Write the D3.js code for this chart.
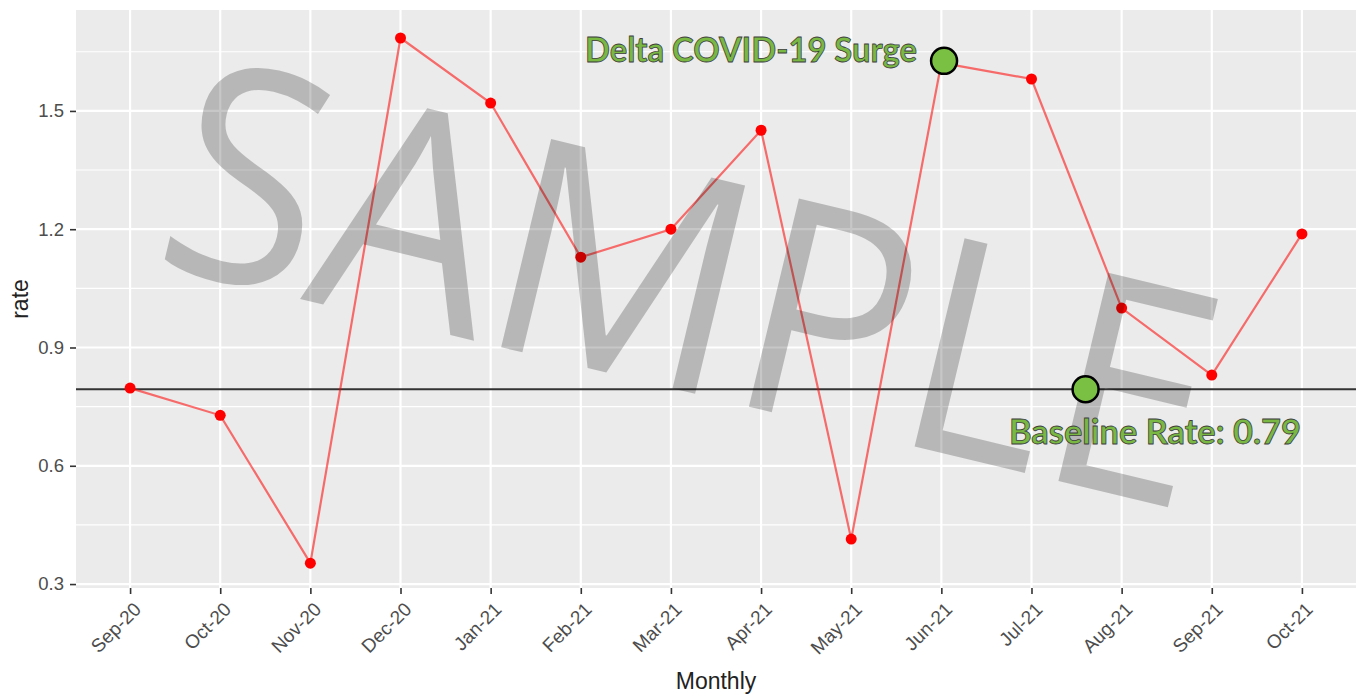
<!DOCTYPE html>
<html>
<head>
<meta charset="utf-8">
<script src="https://cdn.jsdelivr.net/npm/d3@7"></script>
<style>
  body { margin: 0; background: #fff; }
  svg { display: block; }
</style>
</head>
<body>
<div id="chart"></div>
<script>
// monthly rate values
var months = ["Sep-20", "Oct-20", "Nov-20", "Dec-20", "Jan-21", "Feb-21", "Mar-21",
              "Apr-21", "May-21", "Jun-21", "Jul-21", "Aug-21", "Sep-21", "Oct-21"];
var rates = [0.797, 0.728, 0.353, 1.685, 1.520, 1.129, 1.200,
             1.451, 0.414, 1.622, 1.581, 1.000, 0.830, 1.188];
var yTicks = [0.3, 0.6, 0.9, 1.2, 1.5];
var yMinor = [0.45, 0.75, 1.05, 1.35, 1.65];
var baselineRate = 0.794;

// annotation markers: category, offset (fraction of a step), value, label
var markers = [
  { month: "Jun-21", offset: 0.03, value: 1.627 },
  { month: "Jul-21", offset: 0.6, value: baselineRate }
];
var labels = [
  { text: "Delta COVID-19 Surge", month: "Jun-21", offset: -0.27, value: 1.625, anchor: "end", len: 332 },
  { text: "Baseline Rate: 0.79", month: "Jul-21", offset: -0.25, value: 0.656, anchor: "start", len: 292 }
];

var W = 1356, H = 696;
var panel = { left: 76, right: 1356, top: 10, bottom: 588 };

var svg = d3.select("#chart").append("svg")
    .attr("width", W)
    .attr("height", H);

var x = d3.scalePoint()
    .domain(months)
    .range([panel.left, panel.right])
    .padding(0.6);
var step = x.step();

var y = d3.scaleLinear()
    .domain([0.290, 1.756])
    .range([panel.bottom, panel.top]);

// panel background
svg.append("rect")
    .attr("x", panel.left)
    .attr("y", panel.top)
    .attr("width", panel.right - panel.left)
    .attr("height", panel.bottom - panel.top)
    .attr("fill", "#ebebeb");

var grid = svg.append("g");
grid.selectAll(".minor")
    .data(yMinor)
    .enter().append("line")
    .attr("x1", panel.left).attr("x2", panel.right)
    .attr("y1", function (d) { return y(d); })
    .attr("y2", function (d) { return y(d); })
    .attr("stroke", "#fff")
    .attr("stroke-width", 1.1);
grid.selectAll(".major")
    .data(yTicks)
    .enter().append("line")
    .attr("x1", panel.left).attr("x2", panel.right)
    .attr("y1", function (d) { return y(d); })
    .attr("y2", function (d) { return y(d); })
    .attr("stroke", "#fff")
    .attr("stroke-width", 2.2);
grid.selectAll(".vmajor")
    .data(months)
    .enter().append("line")
    .attr("x1", function (d) { return x(d); })
    .attr("x2", function (d) { return x(d); })
    .attr("y1", panel.top).attr("y2", panel.bottom)
    .attr("stroke", "#fff")
    .attr("stroke-width", 2.2);

// axes
var yAxis = svg.append("g")
    .attr("transform", "translate(" + panel.left + ",0)")
    .call(d3.axisLeft(y).tickValues(yTicks).tickSize(6).tickPadding(6).tickFormat(d3.format(".1f")));
yAxis.select(".domain").remove();
yAxis.selectAll(".tick line").attr("stroke", "#333").attr("stroke-width", 1.6);
yAxis.selectAll(".tick text")
    .attr("fill", "#4d4d4d")
    .style("font-family", "'Liberation Sans', Arial, sans-serif")
    .style("font-size", "18.5px");

var xAxis = svg.append("g")
    .attr("transform", "translate(0," + panel.bottom + ")")
    .call(d3.axisBottom(x).tickSize(6).tickPadding(0));
xAxis.select(".domain").remove();
xAxis.selectAll(".tick line").attr("stroke", "#333").attr("stroke-width", 1.6);
xAxis.selectAll(".tick text")
    .attr("fill", "#4d4d4d")
    .attr("text-anchor", "end")
    .attr("y", 0)
    .attr("dy", 0)
    .attr("transform", "translate(1,12) rotate(-45) translate(0,15)")
    .style("font-family", "'Liberation Sans', Arial, sans-serif")
    .style("font-size", "19px");

svg.append("text")
    .attr("x", (panel.left + panel.right) / 2)
    .attr("y", 689)
    .attr("text-anchor", "middle")
    .attr("fill", "#222")
    .style("font-family", "'Liberation Sans', Arial, sans-serif")
    .style("font-size", "23px")
    .text("Monthly");

svg.append("text")
    .attr("transform", "translate(28," + ((panel.top + panel.bottom) / 2) + ") rotate(-90)")
    .attr("text-anchor", "middle")
    .attr("fill", "#222")
    .style("font-family", "'Liberation Sans', Arial, sans-serif")
    .style("font-size", "23px")
    .text("rate");

// baseline
svg.append("line")
    .attr("x1", panel.left).attr("x2", panel.right)
    .attr("y1", y(baselineRate)).attr("y2", y(baselineRate))
    .attr("stroke", "#333")
    .attr("stroke-width", 2);

// series
var pts = months.map(function (m, i) { return [x(m), y(rates[i])]; });
svg.append("path")
    .attr("d", d3.line()(pts))
    .attr("fill", "none")
    .attr("stroke", "#ff0000")
    .attr("stroke-opacity", 0.55)
    .attr("stroke-width", 2.2);
svg.selectAll(".pt")
    .data(pts)
    .enter().append("circle")
    .attr("cx", function (d) { return d[0]; })
    .attr("cy", function (d) { return d[1]; })
    .attr("r", 5.5)
    .attr("fill", "#ff0000");

// watermark
svg.append("text")
    .attr("transform", "translate(692,282) rotate(13.5)")
    .attr("text-anchor", "middle")
    .attr("dy", "0.36em")
    .attr("textLength", 1065)
    .attr("lengthAdjust", "spacingAndGlyphs")
    .attr("fill", "#000")
    .attr("fill-opacity", 0.22)
    .style("font-family", "'Open Sans', sans-serif")
    .style("font-weight", "500")
    .style("font-size", "300px")
    .text("SAMPLE");

// annotations
svg.selectAll(".mk")
    .data(markers)
    .enter().append("circle")
    .attr("cx", function (d) { return x(d.month) + d.offset * step; })
    .attr("cy", function (d) { return y(d.value); })
    .attr("r", 13)
    .attr("fill", "#7ac143")
    .attr("stroke", "#000")
    .attr("stroke-width", 2.5);

svg.selectAll(".lbl")
    .data(labels)
    .enter().append("text")
    .attr("x", function (d) { return x(d.month) + d.offset * step; })
    .attr("y", function (d) { return y(d.value); })
    .attr("text-anchor", function (d) { return d.anchor; })
    .attr("textLength", function (d) { return d.len; })
    .attr("lengthAdjust", "spacingAndGlyphs")
    .attr("fill", "#78b843")
    .attr("stroke", "#3d3d3d")
    .attr("stroke-width", 0.8)
    .style("font-family", "Lato, sans-serif")
    .style("font-weight", "bold")
    .style("font-size", "35px")
    .text(function (d) { return d.text; });
</script>
</body>
</html>
